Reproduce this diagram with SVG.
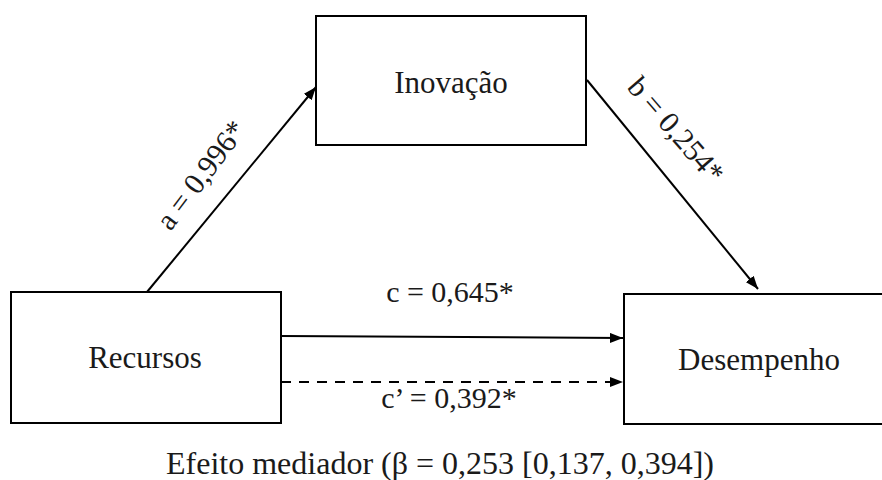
<svg xmlns="http://www.w3.org/2000/svg" width="882" height="480" viewBox="0 0 882 480">
<defs>
<style>
.box{fill:#fff;stroke:#000;stroke-width:2}
.t{font-family:"Liberation Serif","Times New Roman",serif;fill:#1a1a1a;text-anchor:middle}
.n{font-size:31px}
.l{font-size:30px}
.e{stroke:#000;stroke-width:2;fill:none}
</style>
<marker id="ah" viewBox="0 0 13 10" refX="13" refY="5" markerWidth="13" markerHeight="10" markerUnits="userSpaceOnUse" orient="auto">
<path d="M0,0 L13,5 L0,10 Z" fill="#000"/>
</marker>
</defs>
<rect width="882" height="480" fill="#fff"/>
<g id="inovacao">
<rect class="box" x="316" y="16" width="270" height="129"/>
<text class="t n" x="451" y="93">Inovação</text>
</g>
<g id="recursos">
<rect class="box" x="11" y="292" width="270" height="131"/>
<text class="t n" x="145" y="368">Recursos</text>
</g>
<g id="desempenho">
<rect class="box" x="624" y="294" width="272" height="130"/>
<text class="t n" x="759" y="370">Desempenho</text>
</g>
<g id="connectors">
<line class="e" x1="147" y1="292" x2="316" y2="87" marker-end="url(#ah)"/>
<line class="e" x1="587" y1="80" x2="758" y2="289" marker-end="url(#ah)"/>
<line class="e" x1="281" y1="336" x2="623" y2="338" marker-end="url(#ah)"/>
<line class="e" x1="281" y1="382" x2="623" y2="382" stroke-dasharray="10 8" marker-end="url(#ah)"/>
</g>
<g id="labels">
<text class="t l" transform="translate(201,175) rotate(-53)" y="10">a = 0,996*</text>
<text class="t l" transform="translate(676,130) rotate(49)" y="10">b = 0,254*</text>
<text class="t l" x="450" y="302">c = 0,645*</text>
<text class="t l" x="449" y="408">c’ = 0,392*</text>
<text class="t" style="font-size:32px" x="440" y="474">Efeito mediador (β = 0,253 [0,137, 0,394])</text>
</g>
</svg>
